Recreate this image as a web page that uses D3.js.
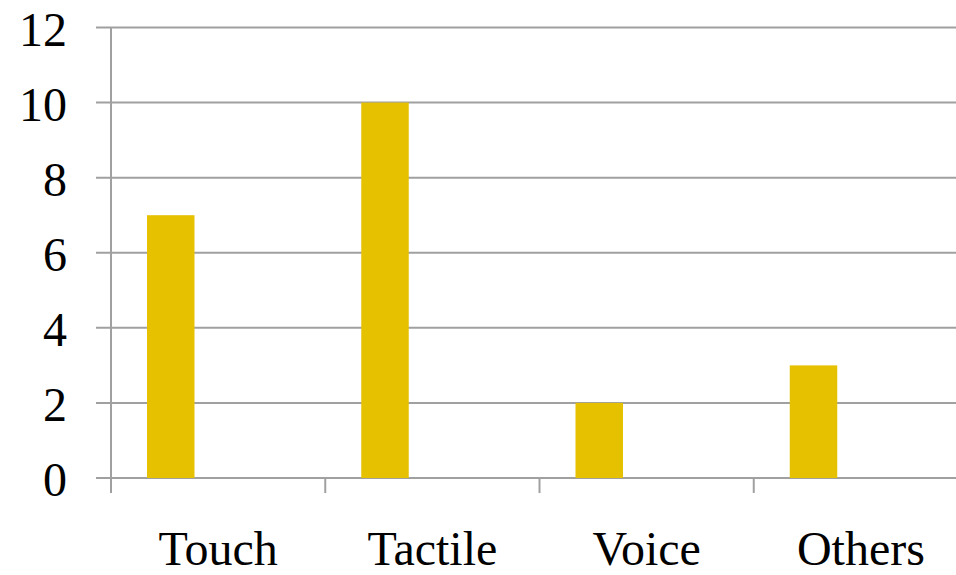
<!DOCTYPE html>
<html><head><meta charset="utf-8">
<script src="https://cdn.jsdelivr.net/npm/d3@7"></script>
<style>body{margin:0;background:#fff}svg{display:block}</style>
</head><body>
<svg id="c" width="956" height="575"></svg>
<script>
const categories = ["Touch", "Tactile", "Voice", "Others"];
const values = [7, 10, 2, 3];
const yTicks = [0, 2, 4, 6, 8, 10, 12];

(function () {
const svg = d3.select("#c");
const mLeft = 111, mRight = 968, mTop = 27.5, mBottom = 478;
const x = d3.scaleBand().domain(categories).range([mLeft, mRight]).paddingInner(0).paddingOuter(0);
const y = d3.scaleLinear().domain([0, 12]).range([mBottom, mTop]);
const grid = "#a0a0a0";
const font = "'Liberation Serif', 'Times New Roman', serif";

// gridlines
svg.append("g").selectAll("line").data(yTicks).join("line")
  .attr("x1", 96).attr("x2", 956)
  .attr("y1", d => y(d)).attr("y2", d => y(d))
  .attr("stroke", grid).attr("stroke-width", 2);

// y axis line
svg.append("line").attr("x1", mLeft).attr("x2", mLeft).attr("y1", y(12)).attr("y2", mBottom + 15)
  .attr("stroke", grid).attr("stroke-width", 2);

// x ticks at band boundaries
const bounds = categories.map(c => x(c));
svg.append("g").selectAll("line").data(bounds.slice(1)).join("line")
  .attr("x1", d => d).attr("x2", d => d).attr("y1", mBottom).attr("y2", mBottom + 15)
  .attr("stroke", grid).attr("stroke-width", 2);

// bars (first series slot of two per category)
const barW = 47.5, offset = 36;
svg.append("g").selectAll("rect").data(values).join("rect")
  .attr("x", (d, i) => x(categories[i]) + offset)
  .attr("width", barW)
  .attr("y", d => y(d))
  .attr("height", d => y(0) - y(d))
  .attr("fill", "#e5c100");

// y labels
svg.append("g").selectAll("text").data(yTicks).join("text")
  .attr("x", 67).attr("y", d => y(d)).attr("dy", "0.38em")
  .attr("text-anchor", "end")
  .attr("font-family", font).attr("font-size", 48).attr("fill", "#000")
  .text(d => d);

// x labels
svg.append("g").selectAll("text").data(categories).join("text")
  .attr("x", d => x(d) + x.bandwidth() / 2).attr("y", 564.5)
  .attr("text-anchor", "middle")
  .attr("font-family", font).attr("font-size", 48).attr("fill", "#000")
  .text(d => d);
})();
</script>
</body></html>
